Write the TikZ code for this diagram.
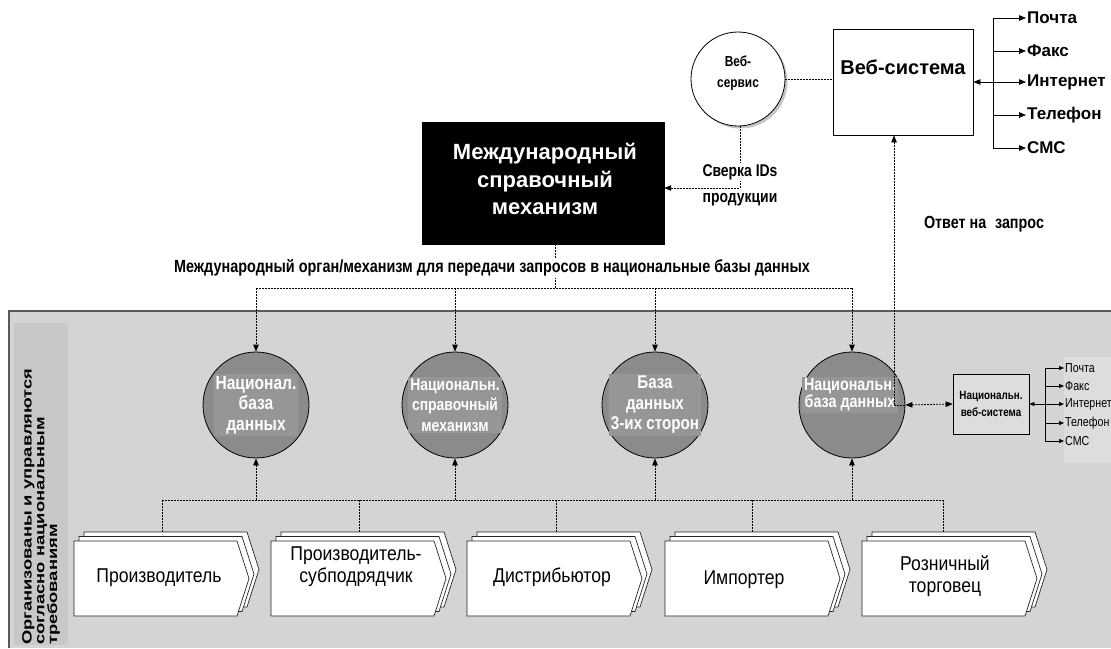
\documentclass[tikz,border=0pt]{standalone}
\usepackage{fontspec}
\setmainfont{Liberation Sans}
\newfontfamily\nar[FakeStretch=0.82]{Liberation Sans}
\newfontfamily\narb[FakeStretch=0.88]{Liberation Sans}
\newfontfamily\wid[FakeStretch=1.36]{Liberation Sans}
\usetikzlibrary{arrows.meta,shadows}
\definecolor{bgg}{HTML}{D4D4D4}
\definecolor{colg}{HTML}{C8C8C8}
\definecolor{circg}{HTML}{8B8B8B}
\definecolor{patchg}{HTML}{969696}
\definecolor{bordg}{HTML}{5A5A5A}
\definecolor{lightg}{HTML}{DDDDDD}
\tikzset{
  dl/.style={line width=0.8pt, dash pattern=on 1.6pt off 1.4pt},
  tip/.style={-{Triangle[length=7pt,width=5.5pt]}},
  tips/.style={{Triangle[length=7pt,width=5.5pt]}-{Triangle[length=7pt,width=5.5pt]}},
  stip/.style={-{Triangle[length=5pt,width=4pt]}},
  stips/.style={{Triangle[length=5pt,width=4pt]}-{Triangle[length=5pt,width=4pt]}},
  natcirc/.style={circle, draw=black, line width=0.8pt, fill=circg, minimum size=106pt, inner sep=0pt},
  ctext/.style={text=white, fill=patchg, align=center, inner sep=2pt},
  lab/.style={fill=white, inner sep=1pt, font=\nar\bfseries\fontsize{17}{20}\selectfont},
  bigout/.style={anchor=west, inner sep=1pt, font=\bfseries\fontsize{17}{20}\selectfont},
  smallout/.style={anchor=west, inner sep=1pt, font=\nar\fontsize{13}{14}\selectfont},
  boxtext/.style={align=center, font=\narb\fontsize{20}{22}\selectfont},
  layer/.style={fill=white, draw=black!85, line width=0.7pt}
}
\newcommand{\chevbox}[3]{%
  \foreach \dx/\dy in {10/-9,5/-4.5,0/0}{%
    \filldraw[layer] ({#2+\dx},{541+\dy}) -- ({#2+163+\dx},{541+\dy}) -- ({#2+175+\dx},{578.5+\dy}) -- ({#2+163+\dx},{616+\dy}) -- ({#2+\dx},{616+\dy}) -- cycle;
  }%
  \coordinate (#1) at (#3,532);%
}
\begin{document}
\begin{tikzpicture}[x=1pt,y=-1pt]
\useasboundingbox (0,0) rectangle (1111,648);
% national area
\fill[bgg] (9,311) rectangle (1111,648);
\draw[bordg, line width=1.4pt] (9,648) -- (9,311) -- (1111,311);
\fill[colg] (14,323) rectangle (68,645);
\fill[lightg] (1064,357) rectangle (1111,463);
\node[rotate=90, anchor=north west, align=left, inner sep=0pt,
      font=\wid\bfseries\fontsize{13.5}{12.8}\selectfont] (coltext) at (22,645)
  {Организованы и управляются\\согласно национальным\\требованиям};

% international mechanism
\node[draw=black, fill=black, minimum width=242pt, minimum height=122pt] (imm) at (543,183) {};
\node[text=white, align=center, font=\bfseries\fontsize{22}{27.5}\selectfont] (immt) at (545,179)
  {Международный\\справочный\\механизм};

% web service
\node[circle, draw=black, line width=0.8pt, fill=white, minimum size=94pt, inner sep=0pt,
      drop shadow={shadow xshift=2.5pt, shadow yshift=-2.5pt, fill=black!45}] (wsc) at (738,79) {};
\node[align=center, font=\nar\bfseries\fontsize{14.5}{20.5}\selectfont] (wsct) at (738,73) {Веб-\\сервис};

% web system
\node[draw=black, line width=0.8pt, minimum width=140pt, minimum height=106pt, inner sep=0pt] (ws) at (903,82) {};
\node[font=\bfseries\fontsize{20}{22}\selectfont] (wst) at (903,67) {Веб-система};

\node[bigout] (p1) at (1026,18) {Почта};
\node[bigout] (p2) at (1026,51) {Факс};
\node[bigout] (p3) at (1026,82) {Интернет};
\node[bigout] (p4) at (1026,115) {Телефон};
\node[bigout] (p5) at (1026,148) {СМС};
\coordinate (bar) at (993,0);
\draw[line width=0.8pt] (p1.west -| bar) -- (p5.west -| bar);
\draw[line width=0.8pt, tips] (ws.east) -- (p3.west);
\foreach \p in {p1,p2,p4,p5}{\draw[line width=0.8pt, tip] (\p.west -| bar) -- (\p.west);}

\draw[dl] (wsc.east) -- (wsc.east -| ws.west);

% reconciliation of IDs
\coordinate (sv) at (740,188);
\draw[dl, tip] (wsc.south -| sv) -- (sv) -- (sv -| imm.east);
\node[lab] (sv1) at (740,172) {Сверка IDs};
\node[lab] (sv2) at (740,200) {продукции};

\node[font=\nar\bfseries\fontsize{17.5}{20}\selectfont] (otv) at (984,224) {Ответ на\hspace{0.5em}запрос};

% national circles
\node[natcirc] (c1) at (256,405) {};
\node[natcirc] (c2) at (455,405) {};
\node[natcirc] (c3) at (655,405) {};
\node[natcirc] (c4) at (852,405) {};
\node[ctext, font=\nar\bfseries\fontsize{19}{20.5}\selectfont] (c1t) at (256,405) {Национал.\\база\\данных};
\node[ctext, font=\nar\bfseries\fontsize{17}{20.5}\selectfont] (c2t) at (455,405) {Национальн.\\справочный\\механизм};
\node[ctext, font=\nar\bfseries\fontsize{18.5}{20.5}\selectfont] (c3t) at (655,405) {База\\данных\\3-их сторон};
\node[ctext, font=\nar\bfseries\fontsize{17.5}{15.5}\selectfont] (c4t) at (850,395) {Национальн.\\база данных};

% distribution from international mechanism
\coordinate (top) at (555,288);
\draw[dl] (imm.south -| top) -- (top);
\draw[dl] (c1.north |- top) -- (c4.north |- top);
\foreach \c in {c1,c2,c3,c4}{\draw[dl, tip] (\c.north |- top) -- (\c.north);}
\node[fill=white, inner sep=2pt, font=\nar\bfseries\fontsize{17.6}{20}\selectfont] (toplab) at (492,268)
  {Международный орган/механизм для передачи запросов в национальные базы данных};

% national web system
\node[draw=black, line width=0.8pt, fill=lightg, minimum width=76pt, minimum height=60pt, align=center,
      font=\nar\bfseries\fontsize{12}{16.5}\selectfont] (nws) at (991,404) {Национальн.\\веб-система};
\node[smallout] (n1) at (1064,368) {Почта};
\node[smallout] (n2) at (1064,386) {Факс};
\node[smallout] (n3) at (1064,404) {Интернет};
\node[smallout] (n4) at (1064,423) {Телефон};
\node[smallout] (n5) at (1064,441) {СМС};
\coordinate (nbar) at (1045,0);
\draw[line width=0.7pt] (n1.west -| nbar) -- (n5.west -| nbar);
\draw[line width=0.7pt, stips] (nws.east) -- (n3.west);
\foreach \p in {n1,n2,n4,n5}{\draw[line width=0.7pt, stip] (\p.west -| nbar) -- (\p.west);}

% response
\coordinate (resp) at (894,405);
\draw[dl, tip] (resp) -- (resp |- ws.south);
\draw[dl] (resp) -- (c4.east);
\draw[dl, tips] (c4.east) -- (nws.west);

% participants
\chevbox{b1}{74}{162}
\chevbox{b2}{271}{359}
\chevbox{b3}{467}{556}
\chevbox{b4}{665}{752}
\chevbox{b5}{862}{943}
\node[boxtext] (b1t) at (159,578) {Производитель};
\node[boxtext] (b2t) at (356,567) {Производитель-\\субподрядчик};
\node[boxtext] (b3t) at (552,577) {Дистрибьютор};
\node[boxtext] (b4t) at (744,580) {Импортер};
\node[boxtext] (b5t) at (945,576) {Розничный\\торговец};

\coordinate (bl) at (0,500);
\draw[dl] (b1 |- bl) -- (b5 |- bl);
\foreach \b in {b1,b2,b3,b4,b5}{\draw[dl] (\b) -- (\b |- bl);}
\foreach \c in {c1,c2,c3,c4}{\draw[dl, tip] (\c.south |- bl) -- (\c.south);}
\end{tikzpicture}
\end{document}
